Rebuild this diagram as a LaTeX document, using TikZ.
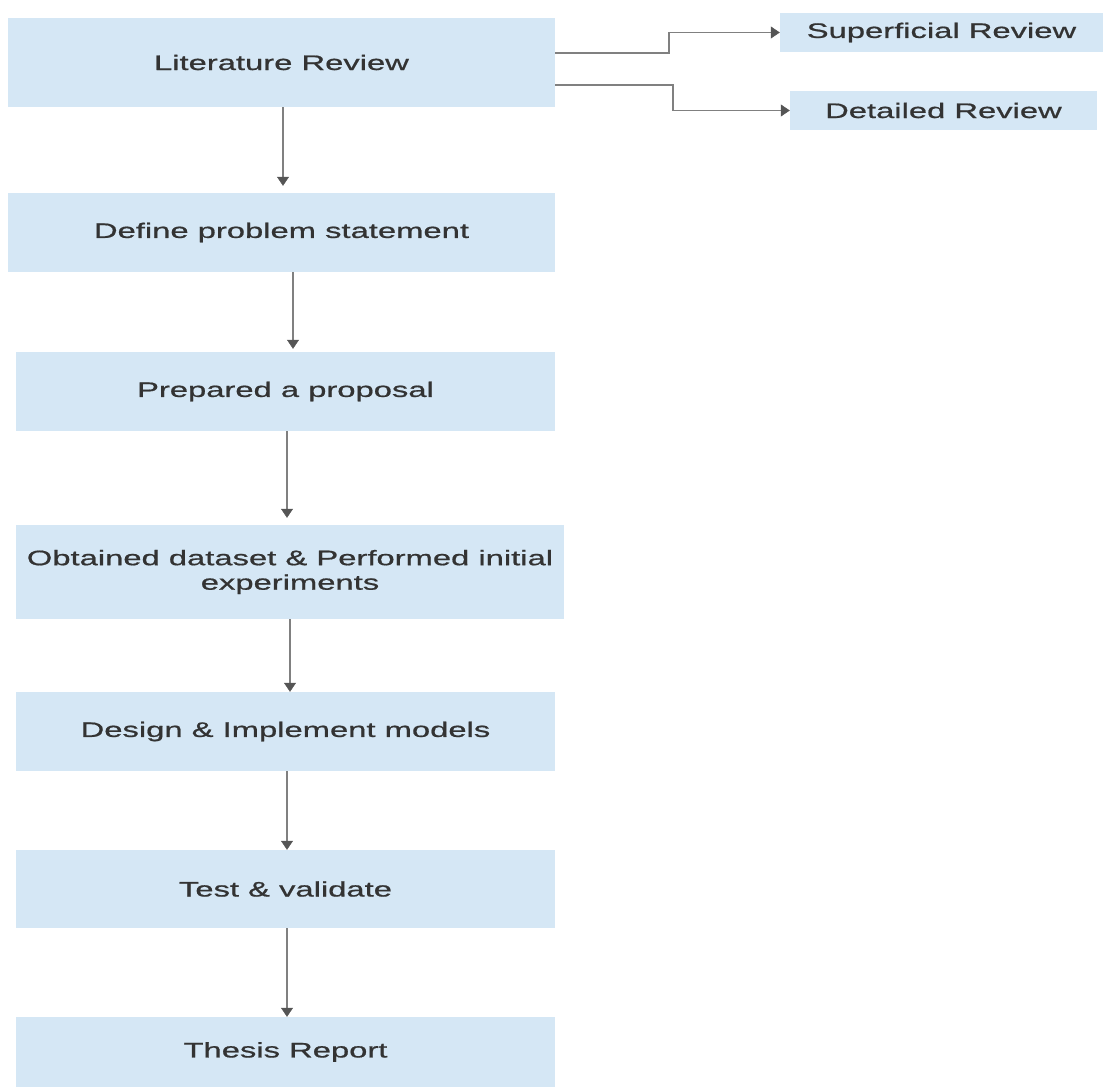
\documentclass[tikz,border=0pt]{standalone}
\usepackage{fontspec}
\setmainfont[FakeStretch=1.56,FakeBold=0.8]{Liberation Sans}
\usetikzlibrary{arrows.meta}
\definecolor{boxblue}{HTML}{D5E7F5}
\definecolor{txtgray}{HTML}{333333}
\definecolor{linegray}{HTML}{808080}
\definecolor{tipgray}{HTML}{555555}
\tikzset{
  stepbox/.style={rectangle, fill=boxblue, draw=none, inner sep=0pt, text=txtgray,
    font=\fontsize{21}{24.5}\selectfont, align=center},
  flow/.style={draw=linegray, line width=1.5pt,
    -{Triangle[width=12pt,length=9pt,fill=tipgray,color=tipgray,line width=0.5pt]}}
}
\begin{document}
\begin{tikzpicture}[x=1pt,y=-1pt]
\useasboundingbox (0,0) rectangle (1103,1089);
\node[stepbox, minimum width=547pt, minimum height=89pt] (lit) at (281.5,62.5) {Literature Review};
\node[stepbox, minimum width=323pt, minimum height=39pt] (sup) at (941.5,32.5) {\raisebox{-2pt}{Superficial Review}};
\node[stepbox, minimum width=307pt, minimum height=39pt] (det) at (943.5,110.5) {Detailed Review};
\node[stepbox, minimum width=547pt, minimum height=79pt] (def) at (281.5,232.5) {\raisebox{-2pt}{Define problem statement}};
\node[stepbox, minimum width=539pt, minimum height=79pt] (prop) at (285.5,391.5) {Prepared a proposal};
\node[stepbox, minimum width=548pt, minimum height=94pt] (obt) at (290,572) {Obtained dataset \& Performed initial\\experiments};
\node[stepbox, minimum width=539pt, minimum height=79pt] (des) at (285.5,731.5) {Design \& Implement models};
\node[stepbox, minimum width=539pt, minimum height=78pt] (test) at (285.5,889) {Test \& validate};
\node[stepbox, minimum width=539pt, minimum height=70pt] (thes) at (285.5,1052) {Thesis Report};

\coordinate (s1) at (669,53);
\coordinate (s2) at (673,85);
\draw[flow] (lit.east |- s1) -- (s1) |- (sup.west);
\draw[flow] (lit.east |- s2) -- (s2) |- (det.west);

\draw[flow, shorten >=7pt] (lit.south -| 283,0) -- (def.north -| 283,0);
\draw[flow, shorten >=3pt] (def.south -| 293,0) -- (prop.north -| 293,0);
\draw[flow, shorten >=7pt] (prop.south -| 287,0) -- (obt.north -| 287,0);
\draw[flow] (obt.south -| 290,0) -- (des.north -| 290,0);
\draw[flow] (des.south -| 287,0) -- (test.north -| 287,0);
\draw[flow] (test.south -| 287,0) -- (thes.north -| 287,0);
\end{tikzpicture}
\end{document}
